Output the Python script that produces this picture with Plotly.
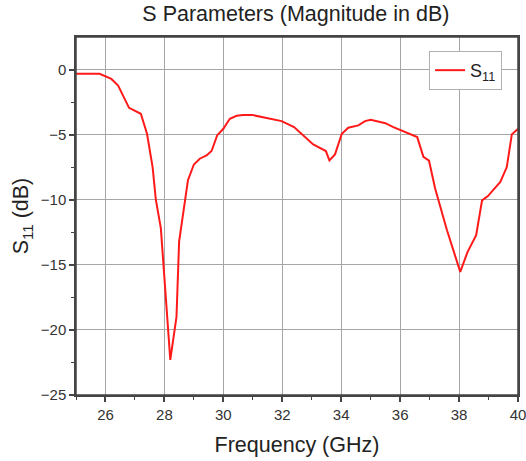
import plotly.graph_objects as go

freq = [25.0, 25.8, 26.2, 26.43, 26.8, 27.2, 27.41, 27.6, 27.71, 27.88, 28.2, 28.41, 28.5,
        28.8, 29.0, 29.2, 29.43, 29.6, 29.79, 30.0, 30.22, 30.45, 30.67, 31.0, 31.47, 31.98,
        32.4, 32.66, 33.05, 33.48, 33.6, 33.79, 34.02, 34.24, 34.58, 34.81, 35.0, 35.5, 35.77,
        36.58, 36.79, 36.98, 37.19, 37.59, 38.04, 38.29, 38.58, 38.78, 38.98, 39.23, 39.4,
        39.62, 39.79, 40.0]
s11 = [-0.33, -0.33, -0.72, -1.23, -2.94, -3.4, -4.93, -7.5, -10.0, -12.2, -22.3, -19.0, -13.2,
       -8.5, -7.29, -6.85, -6.6, -6.26, -5.06, -4.55, -3.78, -3.55, -3.5, -3.5, -3.73, -3.96,
       -4.42, -4.93, -5.75, -6.26, -6.98, -6.52, -4.93, -4.47, -4.29, -3.96, -3.86, -4.12, -4.42,
       -5.19, -6.7, -7.0, -9.15, -12.35, -15.54, -14.0, -12.73, -10.05, -9.72, -9.07, -8.64,
       -7.49, -4.98, -4.55]

x_ticks = [26, 28, 30, 32, 34, 36, 38, 40]
x_minor = [25, 27, 29, 31, 33, 35, 37, 39]
y_ticks = [0, -5, -10, -15, -20, -25]
y_minor = [-2.5, -7.5, -12.5, -17.5, -22.5]

FONT = "Arial, Liberation Sans, sans-serif"
AXC = "#444444"
GRID = "#a6a6a6"

fig = go.Figure()
fig.add_trace(go.Scatter(x=freq, y=s11, mode="lines", name="S<sub>11</sub>",
                         line=dict(color="#ff1a1a", width=2)))

fig.update_layout(
    width=526, height=461,
    margin=dict(l=76, r=8, t=37, b=66, autoexpand=False),
    paper_bgcolor="white", plot_bgcolor="white",
    font=dict(family=FONT, color="#222222"),
    title=dict(text="S Parameters (Magnitude in dB)", x=0.5625, xanchor="center",
               y=0.97, yanchor="middle", font=dict(size=21.5, color="#222222")),
    showlegend=True,
    legend=dict(x=0.964, y=0.961, xanchor="right", yanchor="top",
                bgcolor="white", bordercolor="#b0b0b0", borderwidth=1,
                font=dict(size=18, color="#222222"), itemwidth=30),
    xaxis=dict(range=[25, 40], tickvals=x_ticks, ticks="outside", ticklen=5,
               tickwidth=1.5, tickcolor=AXC, showline=True, mirror=True, linecolor=AXC,
               linewidth=1.5, showgrid=True, gridcolor=GRID, gridwidth=1, zeroline=False,
               automargin=False, ticklabeloverflow="allow",
               tickfont=dict(size=15, color="#333333"),
               minor=dict(tickvals=x_minor, ticks="outside",
                          ticklen=3, tickwidth=1.2, tickcolor=AXC, showgrid=False),
               title=dict(text="Frequency (GHz)", font=dict(size=21.5, color="#222222"))),
    yaxis=dict(range=[-25, 2.5], tickvals=y_ticks, ticks="outside", ticklen=5,
               tickwidth=1.5, tickcolor=AXC, showline=True, mirror=True, linecolor=AXC,
               linewidth=1.5, showgrid=True, gridcolor=GRID, gridwidth=1, zeroline=False,
               automargin=True, tickfont=dict(size=15, color="#333333"),
               minor=dict(tickvals=y_minor, ticks="outside",
                          ticklen=3, tickwidth=1.2, tickcolor=AXC, showgrid=False),
               title=dict(text="S<sub>11</sub> (dB)", font=dict(size=21.5, color="#222222"),
                          standoff=6)),
)

# plot frame (top/right border)
fig.add_shape(type="rect", xref="paper", yref="paper", x0=0, x1=1, y0=0, y1=1,
              line=dict(color=AXC, width=1.5), fillcolor="rgba(0,0,0,0)", layer="above")

fig.write_html("out.html", config={"displayModeBar": False},
               post_script="document.body.style.margin='0px';")
